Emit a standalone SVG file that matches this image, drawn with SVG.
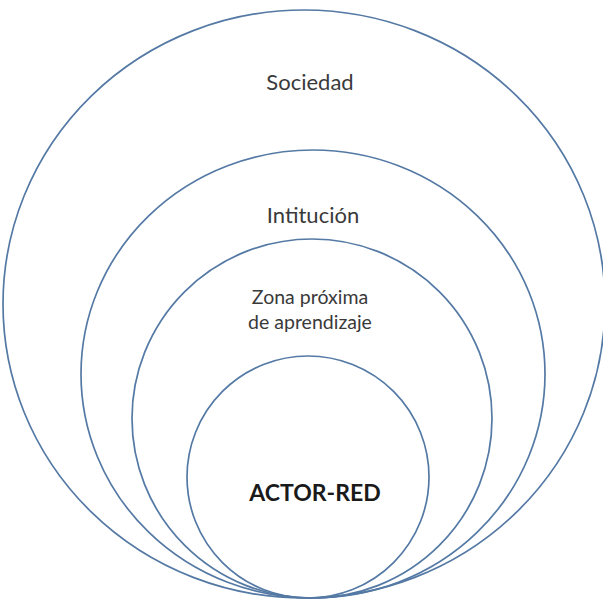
<svg xmlns="http://www.w3.org/2000/svg" width="603" height="601" viewBox="0 0 603 601">
  <style>
    .ring { fill: none; stroke: #5479a4; stroke-width: 1.7; }
    .lbl { font-family: Lato, "Open Sans", "Liberation Sans", sans-serif; fill: #3a3a3a; text-anchor: middle; font-size: 22px; }
    .lbl-s { font-size: 19.5px; }
    .bold { font-weight: bold; fill: #1a1a1a; font-size: 23px; }
  </style>
  <rect width="603" height="601" fill="#ffffff"/>
  <g id="sociedad">
    <ellipse class="ring" cx="304" cy="304" rx="301" ry="294"/>
    <text class="lbl" x="310" y="90">Sociedad</text>
  </g>
  <g id="institucion">
    <ellipse class="ring" cx="313" cy="374" rx="232" ry="224"/>
    <text class="lbl" x="313" y="223">Intitución</text>
  </g>
  <g id="zona">
    <ellipse class="ring" cx="312" cy="418.5" rx="180" ry="179.5"/>
    <text class="lbl lbl-s" x="310" y="304">Zona próxima</text>
    <text class="lbl lbl-s" x="310" y="329">de aprendizaje</text>
  </g>
  <g id="actor-red">
    <ellipse class="ring" cx="308" cy="477" rx="121" ry="121"/>
    <text class="lbl bold" x="315" y="501">ACTOR-RED</text>
  </g>
  <g id="connectors"/>
</svg>
